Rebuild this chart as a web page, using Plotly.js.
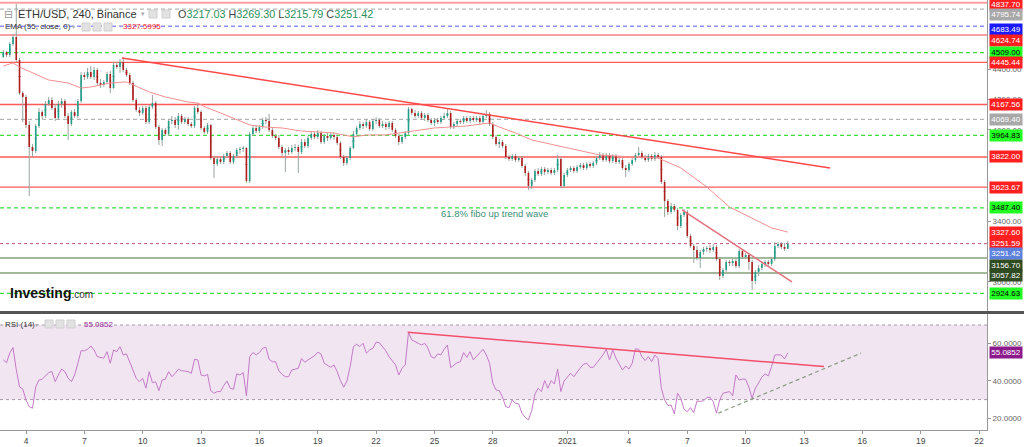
<!DOCTYPE html>
<html><head><meta charset="utf-8">
<script src="https://cdn.plot.ly/plotly-3.0.1.min.js"></script>
<style>html,body{margin:0;padding:0;background:#fff;overflow:hidden}#chart{width:1024px;height:447px}</style>
</head><body><div id="chart"></div>
<script>
// ---------- data ----------
const startTime = Date.UTC(2021, 11, 2, 20, 0); // first 4h bar
const barHours = 4;
const open = [
4480,4513,4493,4566,4612,4461,4243,4217,4033,3888,
3861,4026,4118,4092,4171,4197,4145,4079,4171,4191,
4092,4039,4118,4092,4191,4362,4349,4382,4349,4395,
4309,4296,4316,4368,4276,4428,4414,4447,4395,4362,
4309,4197,4131,4112,4145,4052,4151,4177,4019,3934,
4000,3973,4059,4066,4033,4092,4052,4072,4039,4026,
4145,4118,4013,3987,4033,3815,3776,3809,3789,3829,
3848,3789,3829,3868,3875,3881,3664,3973,4013,3993,
4019,4066,4059,4000,3960,3947,3888,3848,3868,3855,
3881,3888,3855,3921,3894,3947,3973,3954,3980,3921,
3960,3947,3967,3954,3914,3822,3782,3815,3881,3973,
4013,4039,4026,4052,4006,4059,4066,4026,4039,4019,
4046,4000,3960,3921,3954,3980,4138,4112,4092,4112,
4079,4098,4066,4046,4066,4052,4079,4092,4112,4019,
4039,4059,4052,4079,4059,4079,4066,4079,4052,4092,
4105,4039,3954,3908,3921,3894,3822,3809,3829,3802,
3815,3763,3717,3631,3671,3730,3710,3743,3723,3736,
3717,3736,3809,3631,3703,3736,3750,3730,3756,3769,
3750,3776,3763,3782,3815,3835,3802,3835,3796,3829,
3789,3802,3750,3736,3776,3802,3835,3848,3822,3802,
3829,3809,3835,3822,3657,3532,3460,3499,3473,3368,
3440,3460,3302,3236,3210,3157,3197,3216,3223,3210,
3230,3151,3039,3078,3131,3124,3137,3104,3203,3164,
3177,3131,3006,3065,3091,3118,3131,3118,3151,3236,
3249,3230,3217.03];
const high = [
4526,4520,4579,4632,4829,4474,4256,4230,4059,3908,
4039,4145,4131,4191,4217,4217,4171,4191,4210,4204,
4112,4131,4138,4204,4382,4382,4408,4421,4414,4408,
4335,4329,4382,4388,4447,4447,4467,4480,4408,4375,
4322,4210,4151,4158,4158,4164,4230,4191,4033,4013,
4013,4072,4092,4085,4112,4105,4085,4085,4052,4158,
4177,4131,4026,4046,4039,3829,3822,3822,3842,3861,
3861,3842,3881,3888,3894,3888,3987,4026,4026,4033,
4079,4085,4105,4013,3973,3967,3901,3881,3888,3901,
3908,3901,3940,3940,3960,3993,3987,4000,3993,3973,
3980,3980,3980,3967,3927,3835,3829,3894,3993,4026,
4059,4052,4072,4066,4072,4085,4079,4059,4052,4059,
4059,4013,3973,3967,3993,4151,4145,4131,4125,4125,
4112,4112,4079,4079,4079,4092,4112,4138,4125,4052,
4072,4072,4092,4092,4092,4092,4092,4092,4105,4131,
4118,4052,3967,3940,3934,3908,3835,3842,3842,3829,
3829,3776,3730,3684,3743,3750,3756,3756,3750,3750,
3750,3835,3822,3717,3750,3763,3763,3769,3782,3782,
3789,3789,3796,3829,3855,3848,3848,3848,3842,3842,
3815,3815,3769,3789,3815,3848,3888,3861,3835,3842,
3842,3855,3848,3835,3671,3545,3519,3513,3486,3453,
3480,3473,3315,3249,3236,3210,3230,3236,3243,3249,
3243,3164,3091,3144,3144,3151,3151,3216,3216,3190,
3190,3144,3078,3111,3137,3144,3144,3164,3262,3262,
3262,3256,3269.30];
const low = [
4474,4480,4480,4553,4447,4230,4052,4013,3565,3822,
3848,4013,4072,4079,4158,4131,4059,4066,4145,4079,
3934,4026,4079,4079,4177,4329,4335,4335,4329,4296,
4276,4283,4303,4243,4270,4401,4375,4382,4349,4296,
4184,4118,4092,4098,4039,4039,4138,4006,3901,3894,
3960,3960,4039,4013,4000,4039,4039,4026,4013,4013,
4105,4000,3973,3973,3802,3684,3763,3776,3776,3815,
3776,3776,3815,3842,3855,3651,3651,3960,3980,3980,
4006,4039,3987,3947,3934,3875,3829,3723,3835,3842,
3861,3717,3842,3881,3881,3934,3940,3940,3908,3908,
3927,3934,3934,3901,3809,3763,3769,3802,3875,3960,
4000,4006,4013,3993,3993,4039,4013,4013,4000,4006,
3987,3947,3901,3908,3940,3967,4098,4079,4079,4066,
4059,4052,4033,4026,4039,4039,4066,4079,4006,4006,
4026,4039,4039,4046,4046,4052,4052,4039,4039,4079,
4026,3940,3894,3881,3881,3809,3796,3796,3789,3789,
3750,3697,3605,3611,3657,3697,3697,3703,3710,3703,
3703,3723,3618,3618,3690,3723,3717,3717,3743,3736,
3736,3750,3750,3769,3802,3789,3789,3782,3782,3776,
3776,3736,3690,3723,3763,3789,3822,3809,3789,3789,
3796,3796,3809,3644,3427,3440,3447,3460,3341,3354,
3427,3289,3223,3124,3144,3091,3177,3197,3190,3197,
3137,3012,3025,3065,3104,3104,3091,3091,3151,3151,
3078,2946,2986,3039,3078,3098,3104,3104,3137,3223,
3216,3203,3215.79];
const close = [
4513,4493,4566,4612,4461,4243,4217,4033,3888,3861,
4026,4118,4092,4171,4197,4145,4079,4171,4191,4092,
4039,4118,4092,4191,4362,4349,4382,4349,4395,4309,
4296,4316,4368,4276,4428,4414,4447,4395,4362,4309,
4197,4131,4112,4145,4052,4151,4177,4019,3934,4000,
3973,4059,4066,4033,4092,4052,4072,4039,4026,4145,
4118,4013,3987,4033,3815,3776,3809,3789,3829,3848,
3789,3829,3868,3875,3881,3664,3973,4013,3993,4019,
4066,4059,4000,3960,3947,3888,3848,3868,3855,3881,
3888,3855,3921,3894,3947,3973,3954,3980,3921,3960,
3947,3967,3954,3914,3822,3782,3815,3881,3973,4013,
4039,4026,4052,4006,4059,4066,4026,4039,4019,4046,
4000,3960,3921,3954,3980,4138,4112,4092,4112,4079,
4098,4066,4046,4066,4052,4079,4092,4112,4019,4039,
4059,4052,4079,4059,4079,4066,4079,4052,4092,4105,
4039,3954,3908,3921,3894,3822,3809,3829,3802,3815,
3763,3717,3631,3671,3730,3710,3743,3723,3736,3717,
3736,3809,3631,3703,3736,3750,3730,3756,3769,3750,
3776,3763,3782,3815,3835,3802,3835,3796,3829,3789,
3802,3750,3736,3776,3802,3835,3848,3822,3802,3829,
3809,3835,3822,3657,3532,3460,3499,3473,3368,3440,
3460,3302,3236,3210,3157,3197,3216,3223,3210,3230,
3151,3039,3078,3131,3124,3137,3104,3203,3164,3177,
3131,3006,3065,3091,3118,3131,3118,3151,3236,3249,
3230,3217.03,3251.42];
const rsi = [
51.3,49.8,55.0,57.9,46.0,36.8,35.7,29.8,26.2,25.4,
36.8,40.5,40.9,42.5,44.5,45.0,39.6,43.2,46.4,45.0,
41.5,39.6,43.2,49.5,56.2,56.2,57.0,58.8,56.6,53.0,
52.5,52.2,55.7,49.5,56.6,55.7,58.4,53.9,54.5,50.0,
45.9,41.4,39.6,41.4,36.1,45.0,39.1,39.5,34.8,40.5,
40.9,45.0,42.3,44.0,46.3,45.5,45.3,45.0,44.1,51.6,
51.3,43.2,42.7,43.5,34.8,33.4,34.3,34.3,37.5,40.0,
36.1,35.5,43.8,43.2,44.5,32.0,53.0,55.2,54.0,55.2,
57.5,58.1,51.6,50.3,50.3,45.4,43.5,42.3,42.3,45.9,
46.3,46.8,52.0,50.0,51.3,52.2,53.5,55.4,54.5,49.5,
48.6,47.3,48.6,45.0,40.2,36.6,40.0,47.7,58.4,59.7,
58.4,60.2,54.9,56.6,57.5,60.8,60.5,58.5,56.2,53.0,
51.0,48.6,43.2,46.8,48.6,66.1,62.0,61.0,60.2,59.3,
60.2,57.5,53.0,52.2,54.5,54.0,57.0,59.3,47.1,48.5,
49.8,50.3,55.2,52.7,55.7,51.3,53.4,55.0,57.0,53.9,
49.5,38.8,35.2,34.8,31.3,26.2,25.7,29.8,28.0,27.7,
22.7,20.5,19.1,24.1,33.0,36.1,34.3,40.2,36.1,40.2,
38.4,46.3,34.3,40.0,42.3,44.1,42.3,45.0,47.0,49.0,
49.5,47.3,47.3,49.5,51.6,54.0,57.0,51.3,56.6,52.2,
49.0,45.9,48.0,46.4,49.5,57.2,57.0,53.0,50.9,53.0,
50.3,53.9,52.0,36.1,29.8,26.8,27.1,22.3,33.4,30.7,
24.8,23.5,25.7,23.0,29.3,29.0,29.4,31.0,31.3,28.9,
22.7,29.8,33.4,34.0,34.3,32.0,43.2,40.5,41.0,40.9,
36.6,30.7,36.1,39.0,42.0,43.8,42.7,47.7,53.9,54.0,
53.9,51.8,55.0852];
const emaIdx = [0,3,5,9,14,20,24,27,33,38,40,45,50,57,60,63,67,71,76,81,86,92,102,108,112,118,125,133,143,150,153,158,163,174,184,194,202,209,217,224,230,237,242];
const emaVal = [4421,4441,4414,4375,4329,4309,4276,4283,4309,4316,4296,4250,4217,4184,4177,4145,4112,4079,4033,4019,4013,3993,3980,3954,3967,3967,3987,4013,4026,4046,4019,3980,3934,3881,3835,3822,3815,3750,3625,3493,3427,3355,3327.6];
const emaLast = 3327.5995;
const trendDates = ['2021-12-08 22:30', '2022-01-14 08:10'];
const trendPrices = [4473.7, 3749.6];
const trend2Dates = ['2022-01-06 17:30', '2022-01-12 09:10'];
const trend2Prices = [3473, 2999];
const rsiTrendDates = ['2021-12-23 15:00', '2022-01-14 00:40'];
const rsiTrendValues = [66.1, 47.7];
const rsiSupportDates = ['2022-01-08 14:10', '2022-01-15 22:20'];
const rsiSupportValues = [22.7, 54.9];
const levelPrices = [4837.70,4795.74,4683.49,4624.74,4509.00,4445.44,4167.56,4069.40,3964.83,3822.00,3623.67,3487.40,3251.59,3156.70,3057.82,2924.63];
const levelKinds = ['pale','gray','blue','pale','green','red','red','gray','green','red','red','green','price','olive','olive','green'];
const labelPrices = [4837.70,4795.74,4683.49,4624.74,4509.00,4445.44,4167.56,4069.40,3964.83,3822.00,3623.67,3487.40,3327.60,3251.59,3251.42,3156.70,3057.82,2924.63];
const labelKinds = ['red','gray','blue','red','green','red','red','gray','green','red','red','green','red','red','last','olive','olive','green'];
const priceTicks = [3000,3400,4000,4200,4400];
const rsiTicks = [20,40,60];
const tickDates = ['2021-12-04','2021-12-07','2021-12-10','2021-12-13','2021-12-16','2021-12-19','2021-12-22','2021-12-25','2021-12-28','2021-12-31 20:00','2022-01-04','2022-01-07','2022-01-10','2022-01-13','2022-01-16','2022-01-19','2022-01-22'];
const tickLabels = ['4','7','10','13','16','19','22','25','28','2021','4','7','10','13','16','19','22'];

// ---------- styling ----------
const labelShift = [-1.5,-5,-3,-5,0,0,0,0,0,0,0,0,0,0,-10,-7,-2,0];
const lineStyle = {
  red:{color:'#ff5a5a',width:1.3,dash:'solid'},
  pale:{color:'#ffa0a0',width:2,dash:'solid'},
  gray:{color:'#b5b5b5',width:1.2,dash:'4px,3px'},
  blue:{color:'#8f8fff',width:1.5,dash:'4px,3px'},
  green:{color:'#3fdc3f',width:1.3,dash:'4px,3px'},
  olive:{color:'#85a07a',width:1.5,dash:'solid'},
  price:{color:'#c0507a',width:1,dash:'dot'}
};
const labelStyle = {
  red:{bg:'#ff1f1f',fg:'#ffffff'}, gray:{bg:'#a8a8a8',fg:'#ffffff'},
  blue:{bg:'#1a1aff',fg:'#ffffff'}, green:{bg:'#22ff22',fg:'#000000'},
  olive:{bg:'#2f4b22',fg:'#ffffff'}, last:{bg:'#5d82dd',fg:'#ffffff'}
};
const FONT = 'Liberation Sans, Arial, sans-serif';
const W = 987, H = 430;
const px = v => v / W, py = v => 1 - v / H;

const times = close.map((_, k) => new Date(startTime + k * barHours * 3600e3).toISOString().slice(0,16).replace('T',' '));
const mid = open.map((o, k) => (o + close[k]) / 2);
const bodyHi = open.map((o, k) => Math.max(o, close[k]));
const bodyLo = open.map((o, k) => Math.min(o, close[k]));

const traces = [
  {type:'candlestick', x:times, open:mid, close:mid, high:high, low:low, xaxis:'x', yaxis:'y',
   increasing:{line:{color:'#98a59e',width:1},fillcolor:'#98a59e'},
   decreasing:{line:{color:'#98a59e',width:1},fillcolor:'#98a59e'}, hoverinfo:'skip'},
  {type:'candlestick', x:times, open:open, close:close, high:bodyHi, low:bodyLo, xaxis:'x', yaxis:'y',
   increasing:{line:{color:'#1f9e89',width:0},fillcolor:'#1f9e89'},
   decreasing:{line:{color:'#b01c1c',width:0},fillcolor:'#b01c1c'}, hoverinfo:'skip'},
  {type:'scatter', mode:'lines', x:emaIdx.map(k=>times[k]), y:emaVal, xaxis:'x', yaxis:'y',
   line:{color:'#f39090',width:1}, hoverinfo:'skip'},
  {type:'scatter', mode:'lines', x:trendDates, y:trendPrices, xaxis:'x', yaxis:'y',
   line:{color:'#ff4848',width:1.5}, hoverinfo:'skip'},
  {type:'scatter', mode:'lines', x:trend2Dates, y:trend2Prices, xaxis:'x', yaxis:'y',
   line:{color:'#e2707c',width:1.5}, hoverinfo:'skip'},
  {type:'scatter', mode:'lines', x:times, y:rsi, xaxis:'x', yaxis:'y2',
   line:{color:'#c47ac8',width:1}, hoverinfo:'skip'},
  {type:'scatter', mode:'lines', x:rsiTrendDates, y:rsiTrendValues, xaxis:'x', yaxis:'y2',
   line:{color:'#f2506a',width:1.5}, hoverinfo:'skip'},
  {type:'scatter', mode:'lines', x:rsiSupportDates, y:rsiSupportValues, xaxis:'x', yaxis:'y2',
   line:{color:'#8a9a80',width:1.2,dash:'4px,3px'}, hoverinfo:'skip'}
];

const shapes = [];
levelPrices.forEach((p, k) => {
  const s = lineStyle[levelKinds[k]];
  shapes.push({type:'line', xref:'paper', yref:'y', x0:0, x1:1, y0:p, y1:p, layer:'below',
    line:{color:s.color, width:s.width, dash:s.dash}});
});
shapes.push({type:'rect', xref:'paper', yref:'y2', x0:0, x1:1, y0:30, y1:70, layer:'below', fillcolor:'#f2e5f2', line:{width:0}});
[30,70].forEach(v => shapes.push({type:'line', xref:'paper', yref:'y2', x0:0, x1:1, y0:v, y1:v, layer:'below', line:{color:'#a896a8', width:1, dash:'3px,3px'}}));
shapes.push({type:'rect', xref:'paper', yref:'paper', x0:0, x1:1024/W, y0:py(314), y1:py(311), fillcolor:'#555555', line:{width:0}, layer:'above'});
// small header icons
const icon = (x0, y0) => ({type:'rect', xref:'paper', yref:'paper', x0:px(x0), x1:px(x0+8), y0:py(y0+8), y1:py(y0), fillcolor:'#e2e2e2', line:{color:'#cfcfcf', width:1}});
[[149,10],[162,10],[82,23],[93,23],[104,23],[45,320],[56,320],[67,320]].forEach(a => shapes.push(icon(a[0], a[1])));

const G = '#2b8f5c';
const annotations = [
  {xref:'paper', yref:'paper', x:px(2), y:py(14), xanchor:'left', yanchor:'middle', showarrow:false, text:'⊟', font:{family:'DejaVu Sans', size:11, color:'#999'}},
  {xref:'paper', yref:'paper', x:px(16), y:py(14), xanchor:'left', yanchor:'middle', showarrow:false, text:'ETH/USD, 240, Binance', font:{family:FONT, size:11, color:'#333'}},
  {xref:'paper', yref:'paper', x:px(139), y:py(14), xanchor:'left', yanchor:'middle', showarrow:false, text:'▾', font:{family:'DejaVu Sans', size:7, color:'#aaa'}},
  {xref:'paper', yref:'paper', x:px(176), y:py(14), xanchor:'left', yanchor:'middle', showarrow:false,
   text:'O<span style="color:'+G+'">'+open[242].toFixed(2)+'</span> H<span style="color:'+G+'">'+high[242].toFixed(2)+'</span> L<span style="color:'+G+'">'+low[242].toFixed(2)+'</span> C<span style="color:'+G+'">'+close[242].toFixed(2)+'</span>',
   font:{family:FONT, size:10.8, color:'#444'}},
  {xref:'paper', yref:'paper', x:px(3), y:py(27), xanchor:'left', yanchor:'middle', showarrow:false, text:'EMA (55, close, 0)', font:{family:FONT, size:8, color:'#333'}},
  {xref:'paper', yref:'paper', x:px(70), y:py(27), xanchor:'left', yanchor:'middle', showarrow:false, text:'▾', font:{family:'DejaVu Sans', size:6, color:'#aaa'}},
  {xref:'paper', yref:'paper', x:px(121), y:py(27), xanchor:'left', yanchor:'middle', showarrow:false, text:emaLast.toFixed(4), font:{family:FONT, size:8, color:'#ff2020'}},
  {xref:'paper', yref:'paper', x:px(3), y:py(324), xanchor:'left', yanchor:'middle', showarrow:false, text:'RSI (14)', font:{family:FONT, size:8, color:'#333'}},
  {xref:'paper', yref:'paper', x:px(33), y:py(324), xanchor:'left', yanchor:'middle', showarrow:false, text:'▾', font:{family:'DejaVu Sans', size:6, color:'#aaa'}},
  {xref:'paper', yref:'paper', x:px(82), y:py(324), xanchor:'left', yanchor:'middle', showarrow:false, text:rsi[242].toFixed(4), font:{family:FONT, size:8, color:'#9a2a9a'}},
  {xref:'paper', yref:'paper', x:px(439), y:py(213), xanchor:'left', yanchor:'middle', showarrow:false, text:'61.8% fibo up trend wave', font:{family:FONT, size:9.5, color:'#3a8f77'}},
  {xref:'paper', yref:'paper', x:px(8), y:py(293), xanchor:'left', yanchor:'middle', showarrow:false,
   text:'<b>Investing</b><span style="font-size:10px;fill:#333">.com</span>', font:{family:FONT, size:14, color:'#111'}},
  {xref:'paper', yref:'y2', x:px(989), y:rsi[242], xanchor:'left', yanchor:'middle', showarrow:false, text:rsi[242].toFixed(4),
   bgcolor:'#8b1a8b', borderpad:1, width:30, font:{family:FONT, size:8, color:'#fff'}}
];
labelPrices.forEach((p, k) => {
  const s = labelStyle[labelKinds[k]];
  annotations.push({xref:'paper', yref:'y', x:px(989), y:p, yshift:labelShift[k], xanchor:'left', yanchor:'middle', showarrow:false,
    text:p.toFixed(2), bgcolor:s.bg, borderpad:1, width:30, align:'center', font:{family:FONT, size:8, color:s.fg}});
});

const layout = {
  width:1024, height:447, margin:{l:0, r:37, t:0, b:17},
  paper_bgcolor:'#ffffff', plot_bgcolor:'#ffffff', showlegend:false,
  font:{family:FONT, size:8, color:'#555'},
  xaxis:{type:'date', range:['2021-12-02 15:55','2022-01-22 09:49'], anchor:'y2',
    tickmode:'array', tickvals:tickDates, ticktext:tickLabels, tickfont:{family:FONT, size:8.5, color:'#444'},
    showgrid:false, zeroline:false, showline:true, linecolor:'#999', linewidth:1,
    ticks:'outside', ticklen:3, tickcolor:'#999', rangeslider:{visible:false}, fixedrange:true},
  yaxis:{domain:[1-311/H, 1], range:[2808, 4855.5], side:'right', tickmode:'array', tickvals:priceTicks, tickformat:'.2f',
    showgrid:false, zeroline:false, showline:true, linecolor:'#999', linewidth:1,
    ticks:'outside', ticklen:3, tickcolor:'#999', tickfont:{family:FONT, size:8, color:'#666'}, fixedrange:true},
  yaxis2:{domain:[0, 1-314/H], range:[13.7, 75.9], side:'right', tickmode:'array', tickvals:rsiTicks, tickformat:'.4f',
    showgrid:false, zeroline:false, showline:true, linecolor:'#999', linewidth:1,
    ticks:'outside', ticklen:3, tickcolor:'#999', tickfont:{family:FONT, size:8, color:'#666'}, fixedrange:true},
  shapes:shapes, annotations:annotations
};
Plotly.newPlot('chart', traces, layout, {displayModeBar:false, staticPlot:true});
</script>
</body></html>
